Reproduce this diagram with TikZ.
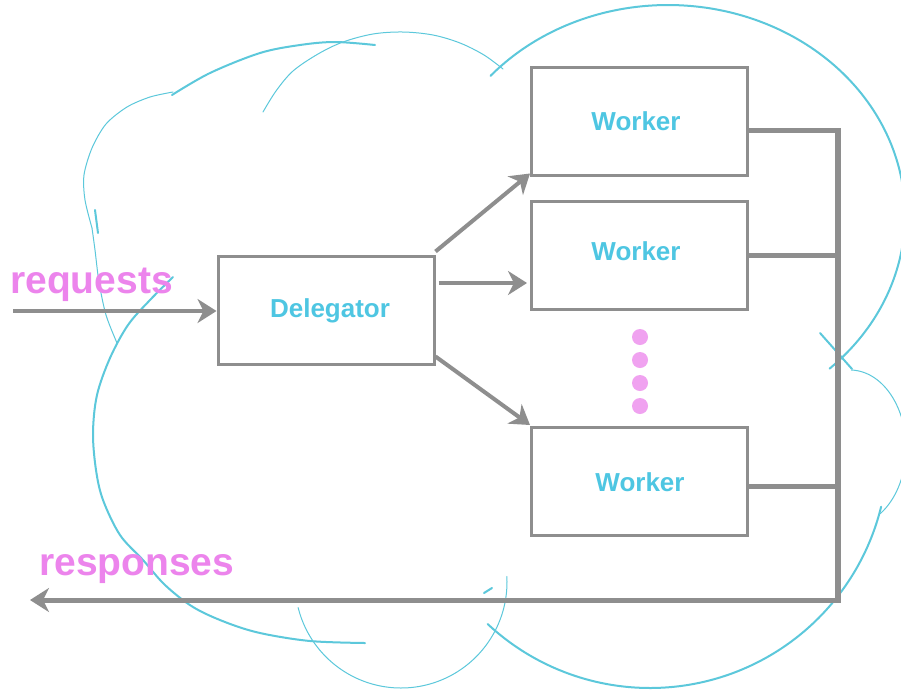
\documentclass[tikz,border=0pt]{standalone}
\usepackage{fontspec}
\setmainfont{Liberation Sans}
\usetikzlibrary{arrows.meta,calc}

\definecolor{cloudcyan}{HTML}{5CC8DB}
\definecolor{labelcyan}{HTML}{4EC6E2}
\definecolor{flowpink}{HTML}{EC84EC}
\definecolor{dotpink}{HTML}{F0A2F0}
\definecolor{wiregray}{HTML}{8E8E8E}

\tikzset{
  box/.style={draw=wiregray, line width=3pt, minimum width=216pt, minimum height=108pt,
              inner sep=0pt, fill=none},
  boxtext/.style={text=labelcyan, font=\bfseries\fontsize{26}{30}\selectfont, anchor=base, inner sep=0pt},
  flowtext/.style={text=flowpink, font=\bfseries\fontsize{39}{45}\selectfont, anchor=base west, inner sep=0pt},
  flow/.style={draw=wiregray, line width=4pt, -{Stealth[length=19pt,width=24pt,inset=6pt]}},
  busline/.style={draw=wiregray, line width=5pt},
  cloudthick/.style={draw=cloudcyan, line width=2pt, line cap=round},
  cloudthin/.style={draw=cloudcyan, line width=1pt, line cap=round},
  morebullet/.style={circle, fill=dotpink, minimum size=16pt, inner sep=0pt},
}

\begin{document}
\begin{tikzpicture}[x=1pt, y=-1pt]
  \useasboundingbox (0,0) rectangle (901,689);
  \fill[white] (0,0) rectangle (901,689);

  % ---- cloud outline, built from loose hand-drawn arcs ----
  % big lobe on the upper right
  \draw[cloudthick] plot[domain=221.5:407, samples=90, smooth]
    ({668+237*cos(\x)}, {215+210*sin(\x)});
  \draw[cloudthick] (820,333) -- (852,369);
  % small lobe on the right edge
  \draw[cloudthin] plot[domain=271.5:417, samples=50, smooth]
    ({850+56*cos(\x)}, {448+78*sin(\x)});
  % big lobe on the lower right
  \draw[cloudthick] plot[domain=13.8:133, samples=70, smooth]
    ({650+238*cos(\x)}, {450+238*sin(\x)});
  % small lobe at the bottom
  \draw[cloudthin] plot[domain=-3:166, samples=60, smooth]
    ({401+106*cos(\x)}, {582+106*sin(\x)});
  \draw[cloudthick] (484,593) -- (492,588);
  % lobe on the lower left
  \draw[cloudthick] plot[smooth, tension=0.55] coordinates {
    (173,277) (150,300) (128,325) (110,358) (97,395) (93,433) (96,470)
    (103,500) (120,535) (143,560) (165,585) (193,607) (225,622) (260,633)
    (310,641) (365,643)};
  % lobe on the upper left
  \draw[cloudthin] plot[smooth, tension=0.5] coordinates {
    (117,343) (106,315) (99,282) (95,250) (92,228)};
  \draw[cloudthin] plot[smooth, tension=0.5] coordinates {
    (92,228) (85,200) (84,175) (92,148) (106,124) (127,107) (150,97) (173,92)};
  \draw[cloudthick] (95,210) -- (98,233);
  \draw[cloudthick] plot[smooth, tension=0.55] coordinates {
    (172,95) (210,73) (260,53) (300,45) (335,42) (375,45)};
  % lobe at the top middle
  \draw[cloudthin] plot[smooth, tension=0.55] coordinates {
    (263,112) (276,91) (293,71) (318,54) (343,42) (373,34) (403,32)
    (433,35) (460,43) (484,55) (503,69)};

  % ---- components ----
  \node[box] (dlg) at (326,310) {};
  \node[box] (w1) at (639.5,121) {};
  \node[box] (w2) at (639.5,255) {};
  \node[box] (w3) at (639.5,481.5) {};

  \node[boxtext] (dlgtext) at (330,317) {Delegator};
  \node[boxtext] (w1text) at (636,130) {Worker};
  \node[boxtext] (w2text) at (636,260) {Worker};
  \node[boxtext] (w3text) at (640,491) {Worker};

  % ellipsis between the workers
  \node[morebullet] (d1) at (640,337) {};
  \node[morebullet] (d2) at (640,360) {};
  \node[morebullet] (d3) at (640,383) {};
  \node[morebullet] (d4) at (640,406) {};

  % ---- incoming requests ----
  \node[flowtext] (reqtext) at (10,293) {requests};
  \coordinate (reqin) at (13,311);
  \draw[flow] (reqin) -- (dlg.west |- reqin);

  % ---- delegation ----
  \draw[flow] ([yshift=3pt]dlg.north east) -- ([yshift=3pt]w1.south west);
  \draw[flow] ([xshift=3pt,yshift=27pt]dlg.east) -- ([xshift=-3pt,yshift=27pt]dlg.east -| w2.west);
  \draw[flow] ([yshift=9pt]dlg.south east) -- ([yshift=1pt]w3.north west);

  % ---- collected responses ----
  \coordinate (bustop) at (838,130);
  \coordinate (busbot) at (838,600);
  \coordinate (respout) at (30,600);
  \draw[busline] (w1.east |- bustop) -- (bustop);
  \draw[busline] (w2.east) -- (w2.east -| bustop);
  \draw[busline] ([yshift=-4.5pt]w3.east) -- ([yshift=-4.5pt]w3.east -| bustop);
  \draw[draw=wiregray, line width=6pt] ([yshift=2pt]bustop) -- ([yshift=-3pt]busbot);
  \draw[flow, line width=5pt] (busbot) -- (respout);
  \node[flowtext] (resptext) at (39,575) {responses};
\end{tikzpicture}
\end{document}
